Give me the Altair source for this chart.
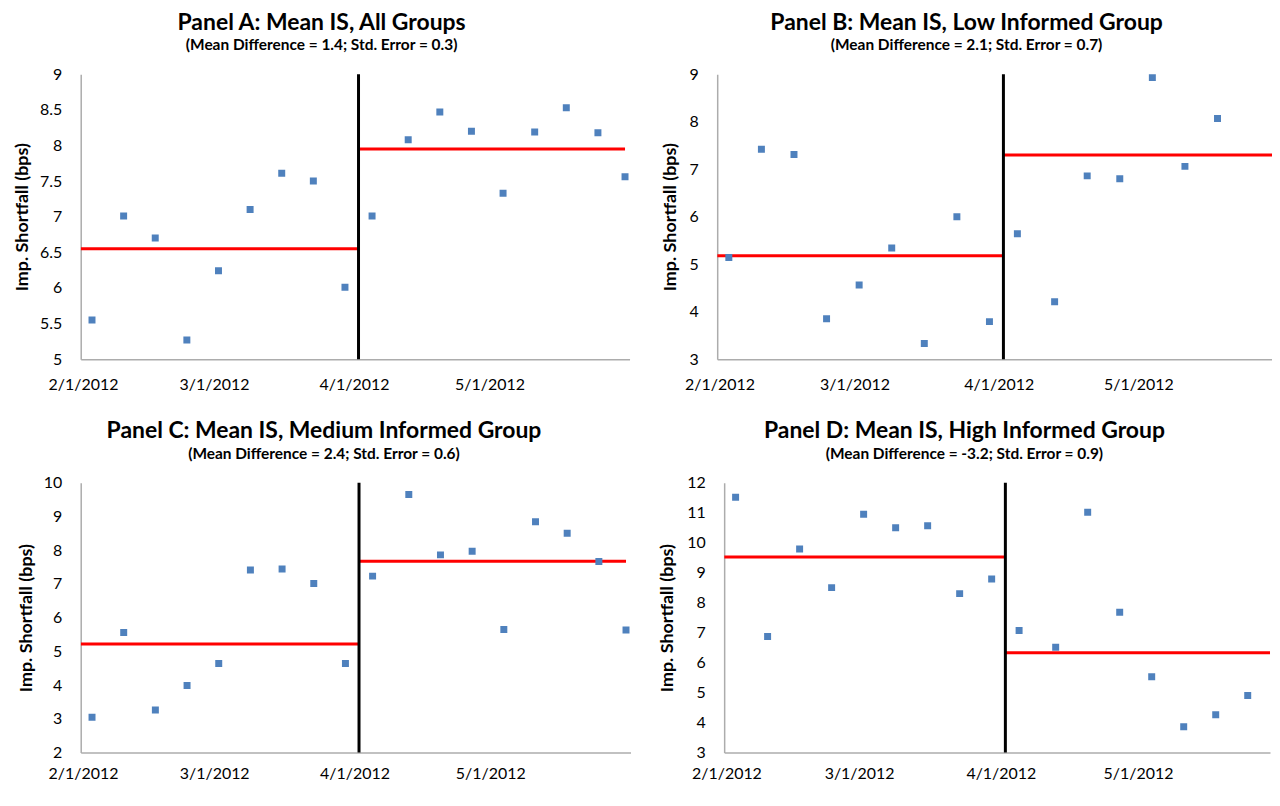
import altair as alt
import pandas as pd

# ---- data ----
dates = ["2012-02-03", "2012-02-10", "2012-02-17", "2012-02-24", "2012-03-02",
         "2012-03-09", "2012-03-16", "2012-03-23", "2012-03-30", "2012-04-05",
         "2012-04-13", "2012-04-20", "2012-04-27", "2012-05-04", "2012-05-11",
         "2012-05-18", "2012-05-25", "2012-05-31"]

is_all = [5.55, 7.01, 6.70, 5.27, 6.24, 7.10, 7.61, 7.50, 6.01,
          7.01, 8.08, 8.47, 8.20, 7.33, 8.19, 8.53, 8.18, 7.56]
is_low = [5.14, 7.42, 7.31, 3.85, 4.56, 5.34, 3.33, 6.00, 3.79,
          5.64, 4.21, 6.86, 6.80, 8.93, 7.06, 8.07, None, 8.23]
is_med = [3.05, 5.56, 3.26, 3.99, 4.64, 7.41, 7.44, 7.01, 4.64,
          7.23, 9.65, 7.86, 7.97, 5.65, 8.84, 8.50, 7.66, 5.63]
is_high = [11.51, 6.87, 9.79, 8.50, 10.95, 10.50, 10.56, 8.30, 8.79,
           7.07, 6.51, 11.01, 7.68, 5.53, 3.86, 4.26, 4.90, 6.20]

mean_pre = [6.55, 5.18, 5.22, 9.52]
mean_post = [7.95, 7.30, 7.67, 6.33]

titles = ["Panel A: Mean IS, All Groups",
          "Panel B: Mean IS, Low Informed Group",
          "Panel C: Mean IS, Medium Informed Group",
          "Panel D: Mean IS, High Informed Group"]
subtitles = ["(Mean Difference = 1.4; Std. Error = 0.3)",
             "(Mean Difference = 2.1; Std. Error = 0.7)",
             "(Mean Difference = 2.4; Std. Error = 0.6)",
             "(Mean Difference = -3.2; Std. Error = 0.9)"]

y_ticks = [[5, 5.5, 6, 6.5, 7, 7.5, 8, 8.5, 9],
           [3, 4, 5, 6, 7, 8, 9],
           [2, 3, 4, 5, 6, 7, 8, 9, 10],
           [3, 4, 5, 6, 7, 8, 9, 10, 11, 12]]

x_tick_dates = ["2012-02-01", "2012-03-01", "2012-04-01", "2012-05-01"]
break_date = "2012-04-02"
seg_start = "2012-01-31T12:00:00Z"
seg_end = "2012-05-31"
x_start = (2012, 1, 31, 12)
x_ends = [(2012, 6, 1, 0), (2012, 5, 29, 17), (2012, 6, 1, 0), (2012, 5, 29, 21)]
widths = [551, 557, 552, 548]
heights = [286, 286, 271, 271]
title_pads = [8, 10, 8, 10]
x_label_pads = [17, 17, 13, 13]

series = [is_all, is_low, is_med, is_high]

FONT = "Lato"


def dt(t):
    return alt.DateTime(year=t[0], month=t[1], date=t[2], hours=t[3], utc=True)


tick_dt = [alt.DateTime(year=int(s[:4]), month=int(s[5:7]), date=int(s[8:10]), utc=True)
           for s in x_tick_dates]


def panel(i):
    pts_df = pd.DataFrame({"date": dates, "value": series[i]})
    seg_df = pd.DataFrame({"date": [seg_start, break_date],
                           "date_end": [break_date, seg_end],
                           "value": [mean_pre[i], mean_post[i]]})
    brk_df = pd.DataFrame({"date": [break_date]})

    xscale = alt.Scale(type="utc", domain=[dt(x_start), dt(x_ends[i])])
    yscale = alt.Scale(domain=[y_ticks[i][0], y_ticks[i][-1]], nice=False, zero=False)
    xaxis = alt.Axis(values=tick_dt, format="%-m/%-d/%Y", title=None, ticks=False,
                     tickSize=0, grid=False, labelFlush=False, labelOverlap=False,
                     labelPadding=x_label_pads[i], domainColor="#ACACAC",
                     domainWidth=1.5)
    yaxis = alt.Axis(values=y_ticks[i], format=".2~f", title="Imp. Shortfall (bps)",
                     ticks=False, tickSize=0, grid=False, labelFlush=False,
                     labelOverlap=False, labelPadding=19, titlePadding=title_pads[i],
                     domainColor="#ACACAC", domainWidth=1.5)
    X = alt.X("date:T", scale=xscale, axis=xaxis)
    Y = alt.Y("value:Q", scale=yscale, axis=yaxis)

    red = alt.Chart(seg_df).mark_rule(color="#FF0000", strokeWidth=3, clip=True).encode(
        x=X, x2="date_end:T", y=Y)
    black = alt.Chart(brk_df).mark_rule(color="#000000", strokeWidth=3).encode(x=X)
    pts = alt.Chart(pts_df).mark_square(size=49, color="#4F81BD", opacity=1,
                                        clip=True).encode(x=X, y=Y)
    return alt.layer(red, black, pts).properties(
        width=widths[i], height=heights[i],
        title=alt.TitleParams(text=titles[i], subtitle=subtitles[i], anchor="middle",
                              frame="bounds", offset=12.7, subtitlePadding=3.2))


row1 = alt.hconcat(panel(0), panel(1), spacing=31)
row2 = alt.hconcat(panel(2), panel(3), spacing=28)
chart = alt.vconcat(row1, row2, spacing=28).properties(
    padding={"left": 5, "top": 2, "right": 0, "bottom": 0}
).configure_view(stroke=None).configure_axis(
    labelFont=FONT, labelFontSize=16, labelColor="#000000",
    titleFont=FONT, titleFontSize=18, titleFontWeight="bold", titleColor="#000000"
).configure_title(
    font=FONT, fontSize=23, fontWeight="bold", color="#000000",
    subtitleFont=FONT, subtitleFontSize=15.5, subtitleFontWeight="bold",
    subtitleColor="#000000"
)

chart.save("out.html", embed_options={"renderer": "svg", "actions": False})
